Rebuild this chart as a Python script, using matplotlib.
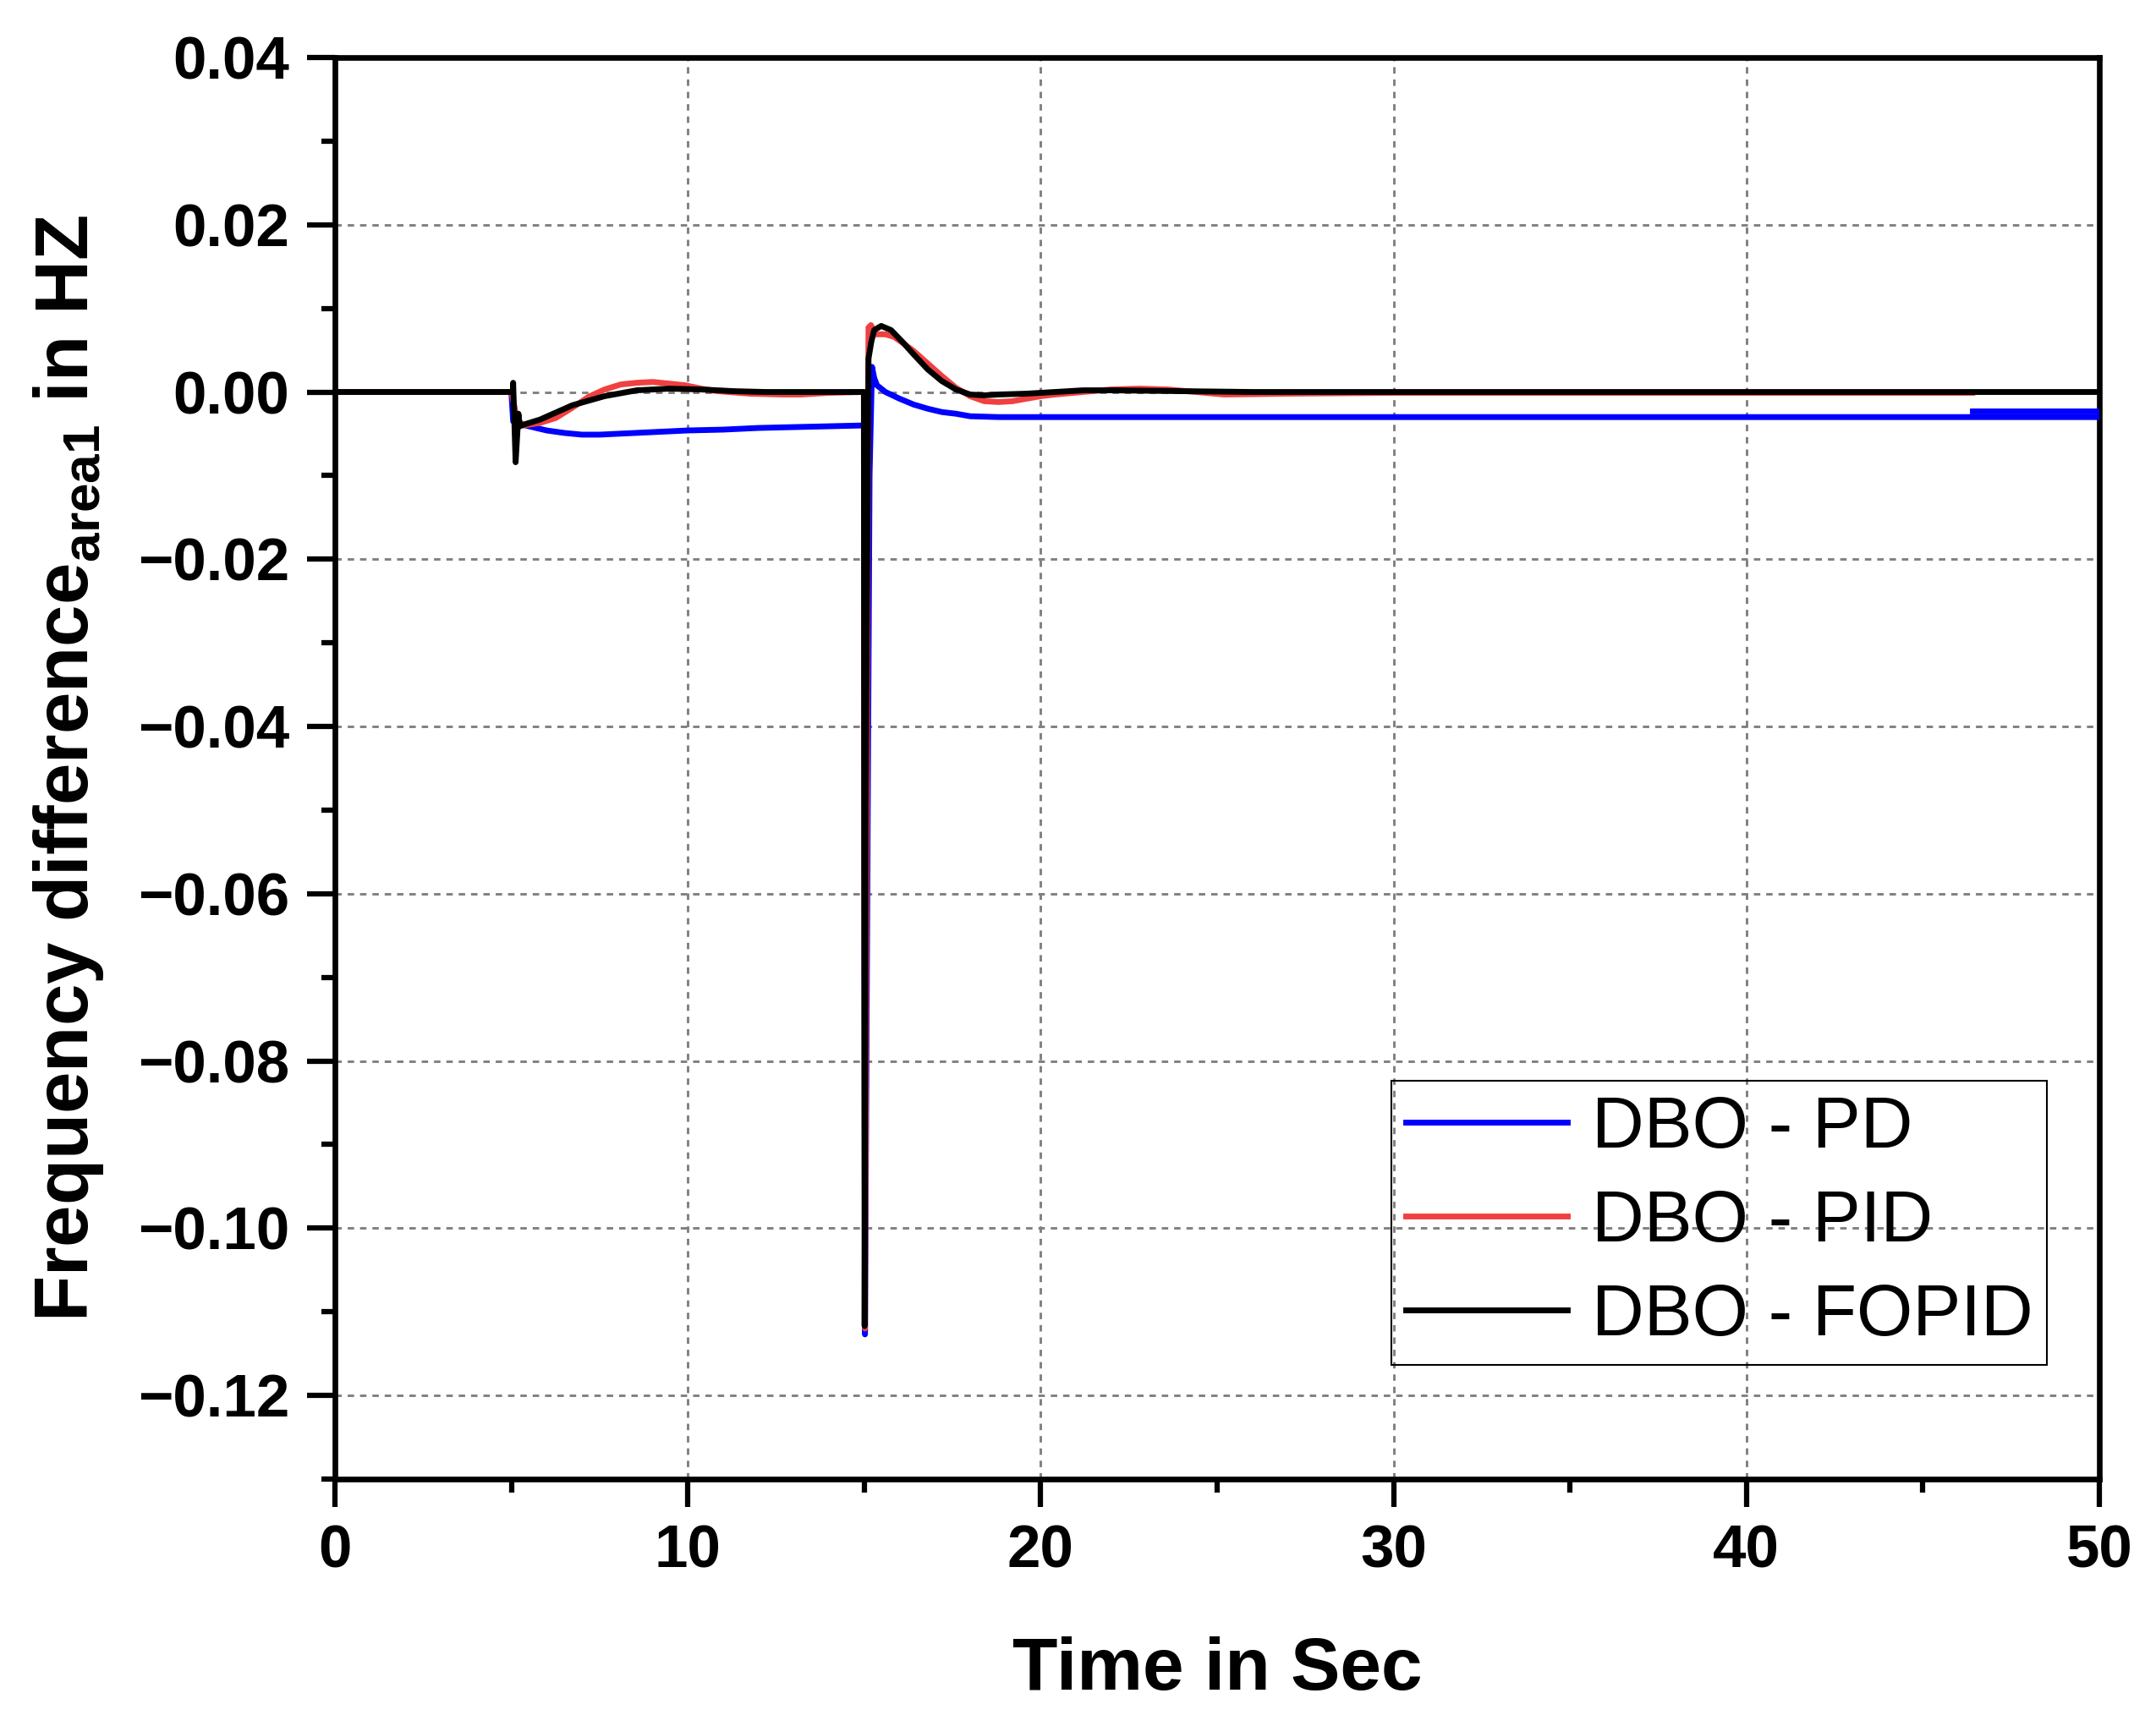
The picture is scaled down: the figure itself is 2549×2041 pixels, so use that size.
import numpy as np
import matplotlib
matplotlib.use("Agg")
import matplotlib.pyplot as plt
from matplotlib.ticker import MultipleLocator

# ─── FONTS ─────────────────────────────────────────────
plt.rcParams['font.family'] = ['Liberation Sans', 'DejaVu Sans']
plt.rcParams['mathtext.fontset'] = 'custom'
plt.rcParams['mathtext.rm'] = 'Liberation Sans'
plt.rcParams['mathtext.bf'] = 'Liberation Sans:bold'

# ─── DATA ──────────────────────────────────────────────
pd_t = [0, 5.0, 5.05, 5.2, 5.6, 6.0, 6.5, 7.0, 7.5, 8.0, 9.0, 10.0, 11.0, 12.0, 13.0, 14.0,
        14.99, 15.02, 15.15, 15.22, 15.28, 15.36, 15.6, 16.0, 16.4, 16.8, 17.2, 17.6, 18.0,
        18.8, 25.0, 35.0, 50.0]
pd_v = [0, 0, -0.0035, -0.0038, -0.0042, -0.0046, -0.0049, -0.0051, -0.0051, -0.0050, -0.0048,
        -0.0046, -0.0045, -0.0043, -0.0042, -0.0041,
        -0.0040, -0.1127, -0.0100, 0.0030, 0.0017, 0.0008, 0.0, -0.0008, -0.0015, -0.0020,
        -0.0024, -0.0026, -0.0029, -0.0030, -0.0030, -0.0030, -0.0030]
pd_tail_t = [46.4, 50.0]
pd_tail_v = [-0.0023, -0.0023]

pid_t = [0, 5.0, 5.07, 5.16, 5.35, 5.81, 6.26, 6.72, 7.18, 7.64, 8.10, 8.55, 9.01, 9.47,
         9.93, 10.38, 10.84, 11.76, 12.67, 13.22, 14.0, 14.99,
         15.02, 15.12, 15.19, 15.32, 15.6, 15.84, 16.08, 16.4, 16.8, 17.2, 17.6, 18.0, 18.4,
         18.8, 19.2, 19.6, 20.0, 20.4, 21.2, 22.0, 22.8, 23.6, 24.4, 25.2, 27.0, 30.0, 46.4]
pid_v = [0, 0, -0.0014, -0.0033, -0.0040, -0.0037, -0.0031, -0.0019, -0.0006, 0.0003, 0.0009,
         0.0011, 0.0012, 0.0010, 0.0008, 0.0004, 0.0001, -0.0002, -0.0003, -0.0003, -0.0001, 0.0,
         -0.1120, 0.0077, 0.0080, 0.0069, 0.0069, 0.0066, 0.0059, 0.0049, 0.0034, 0.0019, 0.0005,
         -0.0005, -0.0011, -0.0012, -0.0011, -0.0008, -0.0005, -0.0003, 0.0, 0.0003, 0.0004,
         0.0003, 0.0, -0.0003, -0.0002, -0.0001, -0.0001]

fopid_t = [0, 5.04, 5.05, 5.12, 5.2, 5.24, 5.35, 5.81, 6.72, 7.64, 8.55, 9.47, 10.38, 11.3,
           12.2, 14.99, 15.01, 15.04, 15.12, 15.2, 15.28, 15.48, 15.76, 16.08, 16.4, 16.8,
           17.2, 17.6, 18.0, 18.4, 18.8, 19.6, 20.4, 21.2, 22.0, 24.0, 26.0, 50.0]
fopid_v = [0, 0, 0.0011, -0.0084, -0.0026, -0.0041, -0.0039, -0.0033, -0.0016, -0.0005, 0.0002,
           0.0004, 0.0003, 0.0001, 0.0, 0.0, -0.1117, -0.0500, 0.0040, 0.0060, 0.0074, 0.0079,
           0.0074, 0.0060, 0.0045, 0.0027, 0.0013, 0.0003, -0.0003, -0.0004, -0.0003, -0.0002,
           0.0, 0.0002, 0.0002, 0.0001, 0.0, 0.0]

labels = ['DBO - PD', 'DBO - PID', 'DBO - FOPID']
colors = ['#0000FF', '#F04040', '#000000']

x_ticks = [0, 10, 20, 30, 40, 50]
y_ticks = [0.04, 0.02, 0.00, -0.02, -0.04, -0.06, -0.08, -0.10, -0.12]
y_ticklabels = ['0.04', '0.02', '0.00', '\u22120.02', '\u22120.04', '\u22120.06',
                '\u22120.08', '\u22120.10', '\u22120.12']

# ─── FIGURE ────────────────────────────────────────────
W, H = 2549, 2041
fig = plt.figure(figsize=(W / 300, H / 300), dpi=300)
ax = fig.add_axes([396 / W, 1 - 1749 / H, (2482 - 396) / W, (1749 - 68) / H])

lw = 1.65
ax.plot(pd_t, pd_v, color=colors[0], lw=lw, label=labels[0], zorder=3)
ax.plot(pd_tail_t, pd_tail_v, color=colors[0], lw=lw, zorder=3)
ax.plot(pid_t, pid_v, color=colors[1], lw=lw, label=labels[1], zorder=4)
ax.plot(fopid_t, fopid_v, color=colors[2], lw=lw, label=labels[2], zorder=5)

ax.set_xlim(0, 50)
ax.set_ylim(-0.13, 0.04)

ax.set_xticks(x_ticks)
ax.set_xticklabels([str(v) for v in x_ticks])
ax.set_yticks(y_ticks)
ax.set_yticklabels(y_ticklabels)
ax.xaxis.set_minor_locator(MultipleLocator(5))
ax.yaxis.set_minor_locator(MultipleLocator(0.01))

ax.tick_params(which='major', direction='out', length=7.9, width=1.5, pad=5,
               labelsize=17)
ax.tick_params(which='minor', direction='out', length=3.8, width=1.5)
for lab in ax.get_xticklabels() + ax.get_yticklabels():
    lab.set_fontweight('bold')

for sp in ax.spines.values():
    sp.set_linewidth(1.6)

ax.grid(which='major', color='#808080', linestyle=(0, (2.6, 2.4)), linewidth=0.7)
ax.set_axisbelow(True)

ax.set_xlabel('Time in Sec', fontsize=21, fontweight='bold', labelpad=16)
ax.set_ylabel(r'Frequency difference$_{\mathbf{area1}}$ in HZ', fontsize=21.3,
              fontweight='bold', labelpad=9)

leg = ax.legend(loc='upper left', bbox_to_anchor=(1645 / W, 1 - 1278 / H),
                bbox_transform=fig.transFigure, borderaxespad=0, fontsize=20.5,
                frameon=True, fancybox=False, framealpha=1, handlelength=2.24,
                handletextpad=0.33, borderpad=0.2, labelspacing=0.36)
leg.get_frame().set_facecolor('none')
leg.get_frame().set_edgecolor('black')
leg.get_frame().set_linewidth(0.5)

fig.savefig('out.png', dpi=300)
